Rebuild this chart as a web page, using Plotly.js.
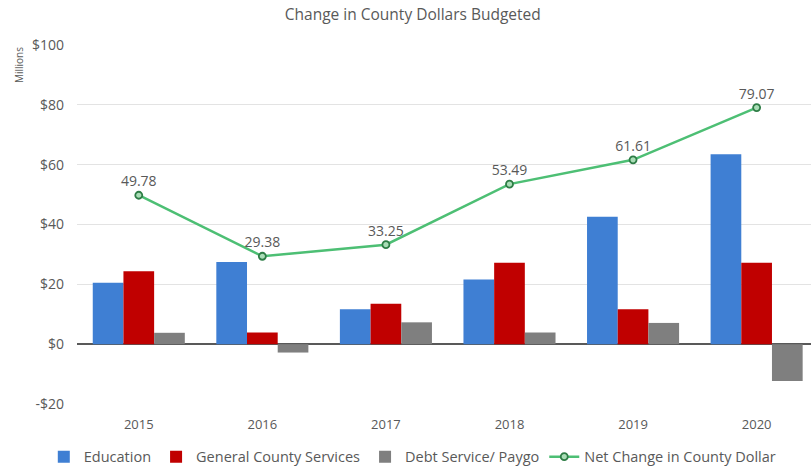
<!DOCTYPE html>
<html>
<head>
<meta charset="utf-8">
<script src="https://cdn.plot.ly/plotly-3.0.1.min.js"></script>
<style>html,body{margin:0;padding:0;background:#fff;}#chart{width:811px;height:467px;}</style>
</head>
<body>
<div id="chart"></div>
<script>
var years = ["2015", "2016", "2017", "2018", "2019", "2020"];
var education = [20.5, 27.5, 11.7, 21.6, 42.6, 63.5];
var generalServices = [24.4, 3.9, 13.5, 27.2, 11.7, 27.2];
var debtService = [3.8, -2.8, 7.3, 3.9, 7.1, -12.3];
var netChange = [49.78, 29.38, 33.25, 53.49, 61.61, 79.07];
var yTickVals = [-20, 0, 20, 40, 60, 80, 100];
var yTickText = ["-$20", "$0", "$20", "$40", "$60", "$80", "$100"];

var fontFam = "Open Sans, Noto Sans, sans-serif";
var txtColor = "#595959";

var traces = [
  {type: "bar", name: "Education", x: years, y: education, marker: {color: "#3F7FD3"}, hoverinfo: "y"},
  {type: "bar", name: "General County Services", x: years, y: generalServices, marker: {color: "#C00000"}, hoverinfo: "y"},
  {type: "bar", name: "Debt Service/ Paygo", x: years, y: debtService, marker: {color: "#7F7F7F"}, hoverinfo: "y"},
  {type: "scatter", mode: "lines+markers+text", name: "Net Change in County Dollar", x: years, y: netChange,
   text: netChange.map(function(v){return v.toFixed(2);}), textposition: "top center",
   textfont: {family: fontFam, size: 14, color: txtColor},
   line: {color: "#4DBF74", width: 2.5},
   marker: {size: 7, color: "#A9DDB6", line: {color: "#2E7D46", width: 1.8}}, cliponaxis: false}
];

var layout = {
  width: 811, height: 467,
  margin: {l: 77, r: 0, t: 45, b: 63},
  paper_bgcolor: "#fff", plot_bgcolor: "#fff",
  title: {text: "Change in County Dollars Budgeted", font: {family: fontFam, size: 15.5, color: txtColor}, x: 0.509, xanchor: "center", y: 0.968, yanchor: "middle"},
  barmode: "group", bargap: 0.255, bargroupgap: 0,
  xaxis: {type: "category", range: [-0.5, 5.44], showgrid: false, zeroline: false, showline: false, automargin: false,
          ticks: "", ticklabelstandoff: 11, tickfont: {family: fontFam, size: 13, color: txtColor}, fixedrange: true},
  yaxis: {range: [-20, 100], tickvals: yTickVals, ticktext: yTickText, showgrid: true, gridcolor: "#E3E3E3", gridwidth: 1,
          zeroline: true, zerolinecolor: "#595959", zerolinewidth: 1.5, ticks: "", ticklen: 0, automargin: false,
          ticklabelstandoff: 12, tickfont: {family: fontFam, size: 14, color: txtColor}, fixedrange: true},
  showlegend: true,
  legend: {orientation: "h", xref: "container", yref: "container", x: 0.054, xanchor: "left", y: 0.022, yanchor: "middle",
           font: {family: fontFam, size: 14.5, color: txtColor}, traceorder: "normal", itemwidth: 30},
  annotations: [
    {text: "Millions", xref: "paper", yref: "paper", x: -0.079, y: 1.0, xanchor: "center", yanchor: "top",
     textangle: -90, showarrow: false, font: {family: fontFam, size: 10, color: txtColor}}
  ]
};

Plotly.newPlot("chart", traces, layout, {displayModeBar: false, staticPlot: true});
</script>
</body>
</html>
